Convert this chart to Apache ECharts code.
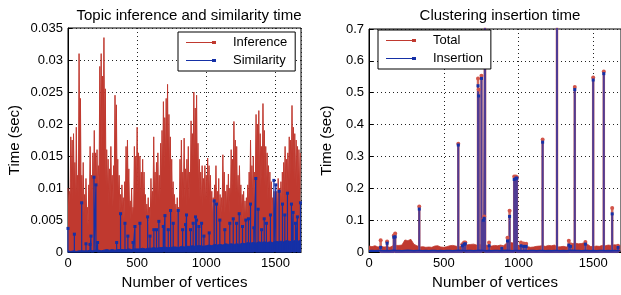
<!DOCTYPE html>
<html>
<head>
<meta charset="utf-8">
<script src="https://cdn.jsdelivr.net/npm/echarts@6/dist/echarts.min.js"></script>
<style>
html, body { margin: 0; padding: 0; background: #fff; }
#chart { width: 621px; height: 295px; }
</style>
</head>
<body>
<div id="chart"></div>
<script>
// left: topic inference time, peaks at every 10 vertices (0, 10, 20 ...)
const inferenceStep = 10;
const inferencePeak = [
  0.010, 0.0095, 0.018, 0.0175, 0.0185, 0.014, 0.0195, 0.012, 0.031, 0.024,
  0.012, 0.014, 0.009, 0.0115, 0.007, 0.0105, 0.0165, 0.012, 0.0155, 0.019,
  0.0155, 0.016, 0.0135, 0.029, 0.031, 0.0275, 0.0335, 0.0255, 0.016, 0.0145,
  0.013, 0.0165, 0.012, 0.0135, 0.0245, 0.023, 0.0145, 0.012, 0.009, 0.0105,
  0.0085, 0.011, 0.0165, 0.0175, 0.013, 0.008, 0.010, 0.007, 0.0165, 0.015,
  0.0195, 0.0155, 0.015, 0.0125, 0.0145, 0.0125, 0.009, 0.0075, 0.0085, 0.007,
  0.0115, 0.0095, 0.018, 0.0125, 0.014, 0.0155, 0.012, 0.017, 0.019, 0.0235,
  0.021, 0.024, 0.0262, 0.0215, 0.018, 0.0145, 0.011, 0.009, 0.0075, 0.0085,
  0.007, 0.0145, 0.0175, 0.0125, 0.0178, 0.013, 0.0145, 0.0165, 0.0125, 0.0205,
  0.0185, 0.025, 0.0225, 0.0245, 0.017, 0.0145, 0.0125, 0.0135, 0.0115, 0.0135,
  0.012, 0.0147, 0.0135, 0.012, 0.0095, 0.0085, 0.0105, 0.0135, 0.0095, 0.0115,
  0.009, 0.0085, 0.0152, 0.0125, 0.0095, 0.0105, 0.0122, 0.010, 0.016, 0.0145,
  0.0204, 0.0175, 0.0165, 0.012, 0.0135, 0.0105, 0.009, 0.0095, 0.008, 0.0085,
  0.0105, 0.0125, 0.0175, 0.0135, 0.015, 0.0125, 0.0215, 0.020, 0.0221, 0.0185,
  0.0165, 0.0232, 0.019, 0.0165, 0.0155, 0.0135, 0.0125, 0.011, 0.0085, 0.0095,
  0.008, 0.0095, 0.0115, 0.010, 0.011, 0.0125, 0.014, 0.0165, 0.0145, 0.0155,
  0.018, 0.0175, 0.0229, 0.0195, 0.0185, 0.0175, 0.0165, 0.016, 0.0155
];
// dips between the peaks (5, 15, 25 ...)
const inferenceDip = [
  0.006, 0.009, 0.011, 0.008, 0.010, 0.007, 0.009, 0.008, 0.014, 0.008,
  0.007, 0.006, 0.005, 0.006, 0.004, 0.007, 0.009, 0.008, 0.010, 0.009,
  0.010, 0.008, 0.012, 0.017, 0.015, 0.019, 0.016, 0.010, 0.009, 0.007,
  0.008, 0.009, 0.007, 0.012, 0.014, 0.010, 0.008, 0.006, 0.005, 0.006,
  0.005, 0.008, 0.010, 0.009, 0.006, 0.005, 0.005, 0.006, 0.009, 0.010,
  0.009, 0.008, 0.007, 0.008, 0.007, 0.006, 0.005, 0.005, 0.004, 0.005,
  0.006, 0.008, 0.009, 0.007, 0.008, 0.007, 0.008, 0.010, 0.012, 0.013,
  0.014, 0.015, 0.012, 0.011, 0.009, 0.007, 0.006, 0.005, 0.005, 0.004,
  0.006, 0.009, 0.008, 0.009, 0.008, 0.007, 0.009, 0.008, 0.010, 0.012,
  0.014, 0.013, 0.015, 0.011, 0.009, 0.008, 0.007, 0.007, 0.008, 0.007,
  0.008, 0.009, 0.007, 0.006, 0.005, 0.006, 0.007, 0.006, 0.006, 0.005,
  0.005, 0.007, 0.008, 0.006, 0.006, 0.007, 0.006, 0.008, 0.009, 0.011,
  0.010, 0.009, 0.008, 0.007, 0.007, 0.006, 0.005, 0.005, 0.005, 0.006,
  0.007, 0.008, 0.009, 0.008, 0.008, 0.011, 0.012, 0.013, 0.011, 0.010,
  0.012, 0.012, 0.010, 0.009, 0.008, 0.008, 0.007, 0.006, 0.005, 0.005,
  0.005, 0.006, 0.006, 0.007, 0.007, 0.008, 0.009, 0.009, 0.009, 0.010,
  0.011, 0.012, 0.012, 0.011, 0.010, 0.010, 0.009, 0.009
];

// similarity time: low band every 20 vertices + separate spikes
const baseStep = 20;
const similarityBase = [
  0.0002, 0.0001, 0.0002, 0.0001, 0.0002, 0.0002, 0.0002, 0.0002, 0.0003, 0.0002,
  0.0003, 0.0003, 0.0002, 0.0003, 0.0004, 0.0003, 0.0004, 0.0003, 0.0004, 0.0004,
  0.0004, 0.0004, 0.0005, 0.0004, 0.0005, 0.0005, 0.0005, 0.0006, 0.0005, 0.0006,
  0.0006, 0.0007, 0.0006, 0.0007, 0.0007, 0.0008, 0.0007, 0.0007, 0.0008, 0.0008,
  0.0007, 0.0009, 0.0008, 0.0009, 0.0009, 0.001, 0.0009, 0.001, 0.001, 0.0009,
  0.001, 0.0011, 0.001, 0.0012, 0.0011, 0.0012, 0.0011, 0.0013, 0.0012, 0.0013,
  0.0012, 0.0013, 0.0012, 0.0014, 0.0013, 0.0015, 0.0014, 0.0015, 0.0014, 0.0016,
  0.0015, 0.0016, 0.0015, 0.0016, 0.0015, 0.0017, 0.0016, 0.0017, 0.0016, 0.0018,
  0.0017, 0.0016, 0.0018, 0.0017, 0.0018
];
const simSpikeAt = [
  0, 46, 99, 130, 159, 166, 188, 202, 214, 352, 380, 412, 433, 470, 484, 520,
  576, 593, 621, 640, 657, 689, 701, 725, 742, 761, 797, 829, 850, 857, 886,
  905, 922, 930, 947, 966, 983, 1021, 1057, 1074, 1098, 1134, 1170, 1195, 1219,
  1238, 1262, 1286, 1305, 1320, 1344, 1358, 1375, 1400, 1419, 1435, 1464, 1489,
  1503, 1527, 1551, 1568, 1587, 1616, 1628, 1645, 1659, 1681
];
const simSpikeVal = [
  0.0037, 0.0028, 0.0077, 0.0013, 0.0012, 0.0025, 0.0117, 0.0105, 0.0015, 0.0015, 0.006, 0.0045, 0.0025, 0.0015, 0.004, 0.0045,
  0.0055, 0.0025, 0.0035, 0.0035, 0.0048, 0.004, 0.0057, 0.0035, 0.0065, 0.0045, 0.0065, 0.0035, 0.0043, 0.0058, 0.0035,
  0.0045, 0.0055, 0.005, 0.004, 0.0045, 0.0025, 0.003, 0.008, 0.0075, 0.005, 0.0035, 0.0045, 0.0052, 0.0045,
  0.006, 0.004, 0.005, 0.0052, 0.0075, 0.0038, 0.0115, 0.0067, 0.0035, 0.0052, 0.0045, 0.0058, 0.0112,
  0.0105, 0.0095, 0.0075, 0.0058, 0.0092, 0.0075, 0.0062, 0.0045, 0.0055, 0.0077
];

// right: clustering insertion time, base every 20 vertices + spikes
const totalBase = [
  0.019, 0.017, 0.02, 0.016, 0.018, 0.016, 0.017, 0.015, 0.02, 0.021,
  0.021, 0.022, 0.038, 0.036, 0.04, 0.025, 0.02, 0.016, 0.017, 0.015,
  0.016, 0.015, 0.019, 0.02, 0.016, 0.015, 0.017, 0.02, 0.021, 0.019,
  0.016, 0.019, 0.02, 0.023, 0.024, 0.025, 0.022, 0.024, 0.021, 0.022,
  0.02, 0.019, 0.021, 0.02, 0.022, 0.02, 0.028, 0.03, 0.029, 0.022,
  0.021, 0.019, 0.016, 0.017, 0.015, 0.016, 0.018, 0.019, 0.02, 0.018,
  0.021, 0.02, 0.022, 0.016, 0.017, 0.018, 0.016, 0.024, 0.027, 0.028,
  0.026, 0.027, 0.029, 0.025, 0.018, 0.017, 0.019, 0.018, 0.021, 0.02,
  0.022, 0.021, 0.023, 0.022, 0.02
];
const insertionBase = [
  0.004, 0.005, 0.004, 0.005, 0.005, 0.004, 0.005, 0.004, 0.006, 0.005,
  0.005, 0.004, 0.005, 0.006, 0.005, 0.004, 0.005, 0.005, 0.004, 0.005,
  0.004, 0.005, 0.005, 0.004, 0.005, 0.004, 0.005, 0.005, 0.004, 0.005,
  0.006, 0.005, 0.004, 0.005, 0.005, 0.004, 0.005, 0.006, 0.005, 0.004,
  0.005, 0.004, 0.005, 0.005, 0.004, 0.005, 0.006, 0.005, 0.004, 0.005,
  0.005, 0.004, 0.005, 0.004, 0.005, 0.005, 0.004, 0.005, 0.005, 0.004,
  0.005, 0.004, 0.005, 0.005, 0.004, 0.005, 0.004, 0.005, 0.006, 0.005,
  0.005, 0.004, 0.005, 0.005, 0.004, 0.005, 0.004, 0.005, 0.005, 0.004,
  0.005, 0.004, 0.005, 0.005, 0.004
];
const insSpikeAt = [
  78, 121, 166, 175, 336, 597, 624, 636, 644, 729, 733, 752, 765, 770, 776, 803,
  888, 926, 940, 971, 982, 989, 1016, 1034, 1051, 1161, 1257, 1336, 1347, 1376,
  1447, 1499, 1570, 1626, 1665
];
const totalSpikeVal = [
  0.037, 0.033, 0.052, 0.058, 0.143, 0.34, 0.025, 0.03, 0.03, 0.545, 0.51, 0.553, 0.105, 0.112, 0.75, 0.03,
  0.016, 0.045, 0.13, 0.237, 0.237, 0.235, 0.03, 0.027, 0.026, 0.353, 0.75, 0.036, 0.025, 0.518,
  0.032, 0.548, 0.567, 0.138, 0.02
];
const insertionSpikeVal = [
  0.015, 0.028, 0.047, 0.048, 0.135, 0.336, 0.02, 0.025, 0.026, 0.522, 0.49, 0.545, 0.1, 0.106, 0.75, 0.02,
  0.012, 0.035, 0.112, 0.228, 0.232, 0.232, 0.02, 0.018, 0.018, 0.345, 0.75, 0.022, 0.018, 0.51,
  0.025, 0.54, 0.56, 0.12, 0.015
];

const xMax = 1685;
const RED = '#c0392f';
const BLUE = '#1530a6';
const FONT = 'Liberation Sans, Arial, Helvetica, sans-serif';
const lineIcon = 'path://M0,2 L26,2 L26,1 L30,1 L30,4 L26,4 L26,3 L0,3 Z';

function stepData(arr, step) {
  return arr.map((y, i) => [i * step, y]);
}
// peak at i*step, dip half a step later
function peakDipData(peaks, dips, step) {
  const out = [];
  peaks.forEach((y, i) => {
    out.push([i * step, y]);
    if (i < dips.length) out.push([i * step + step / 2, dips[i]]);
  });
  return out;
}
// each spike: up from 0 and back down
function spikeData(at, val) {
  const out = [];
  at.forEach((x, i) => {
    out.push({ value: [x, 0], symbol: 'none' });
    out.push({ value: [x, val[i]] });
    out.push({ value: [x, 0], symbol: 'none' });
  });
  return out;
}

function xAxis(gridIndex) {
  return {
    gridIndex: gridIndex, type: 'value', min: 0, max: xMax, interval: 500,
    name: 'Number of vertices', nameLocation: 'middle', nameGap: 19,
    nameTextStyle: { fontFamily: FONT, fontSize: 15, color: '#000' },
    axisLine: { lineStyle: { color: '#000' } },
    axisTick: { inside: true, length: 4, lineStyle: { color: '#000' } },
    axisLabel: { fontFamily: FONT, fontSize: 13, color: '#000', margin: 5, showMaxLabel: false,
      formatter: v => String(v) },
    splitLine: { show: true, lineStyle: { color: '#222', type: [1, 3] } }
  };
}
function yAxis(gridIndex, max, interval, gap) {
  return {
    gridIndex: gridIndex, type: 'value', min: 0, max: max, interval: interval,
    name: 'Time (sec)', nameLocation: 'middle', nameGap: gap,
    nameTextStyle: { fontFamily: FONT, fontSize: 15, color: '#000' },
    axisLine: { lineStyle: { color: '#000' } },
    axisTick: { inside: true, length: 4, lineStyle: { color: '#000' } },
    axisLabel: { fontFamily: FONT, fontSize: 13, color: '#000', margin: 5 },
    splitLine: { show: true, lineStyle: { color: '#222', type: [1, 3] } }
  };
}
function legend(left, top, names, colors) {
  return {
    left: left, top: top, orient: 'vertical',
    backgroundColor: '#fff', borderColor: '#000', borderWidth: 1,
    padding: [4, 8, 4, 8], itemGap: 5, itemWidth: 30, itemHeight: 4,
    icon: lineIcon,
    textStyle: { fontFamily: FONT, fontSize: 13, color: '#000', padding: [0, 0, 0, 12] },
    data: names.map((n, i) => ({ name: n, itemStyle: { color: colors[i] } }))
  };
}

const chart = echarts.init(document.getElementById('chart'));
chart.setOption({
  animation: false,
  backgroundColor: '#fff',
  title: [
    { text: 'Topic inference and similarity time', left: 184, top: 3, textAlign: 'center',
      textStyle: { fontFamily: FONT, fontSize: 15, fontWeight: 'normal', color: '#000' } },
    { text: 'Clustering insertion time', left: 495, top: 3, textAlign: 'center',
      textStyle: { fontFamily: FONT, fontSize: 15, fontWeight: 'normal', color: '#000' } }
  ],
  grid: [
    { left: 68, top: 28, width: 233, height: 229, show: true, borderColor: '#000', borderWidth: 1, backgroundColor: 'transparent' },
    { left: 369, top: 29, width: 252, height: 228, show: true, borderColor: '#000', borderWidth: 1, backgroundColor: 'transparent' }
  ],
  xAxis: [xAxis(0), xAxis(1)],
  yAxis: [yAxis(0, 0.035, 0.005, 46), yAxis(1, 0.7, 0.1, 35)],
  legend: [
    legend(178, 32, ['Inference', 'Similarity'], [RED, BLUE]),
    legend(378, 30, ['Total', 'Insertion'], [RED, BLUE])
  ],
  series: [
    {
      name: 'Inference', type: 'line', xAxisIndex: 0, yAxisIndex: 0,
      data: peakDipData(inferencePeak, inferenceDip, inferenceStep), showSymbol: false,
      lineStyle: { color: RED, width: 1 }, itemStyle: { color: RED },
      areaStyle: { color: RED, opacity: 1 }
    },
    {
      name: 'Similarity', type: 'line', xAxisIndex: 0, yAxisIndex: 0,
      data: stepData(similarityBase, baseStep), showSymbol: false,
      lineStyle: { color: BLUE, width: 1 }, itemStyle: { color: BLUE },
      areaStyle: { color: BLUE, opacity: 1 }
    },
    {
      name: 'Similarity', type: 'line', xAxisIndex: 0, yAxisIndex: 0,
      data: spikeData(simSpikeAt, simSpikeVal), symbol: 'rect', symbolSize: 3,
      lineStyle: { color: BLUE, width: 1.2 }, itemStyle: { color: BLUE }
    },
    {
      name: 'Total', type: 'line', xAxisIndex: 1, yAxisIndex: 1,
      data: stepData(totalBase, baseStep), showSymbol: false,
      lineStyle: { color: RED, width: 0.8 }, itemStyle: { color: RED },
      areaStyle: { color: RED, opacity: 1 }
    },
    {
      name: 'Total', type: 'line', xAxisIndex: 1, yAxisIndex: 1,
      data: spikeData(insSpikeAt, totalSpikeVal), symbol: 'circle', symbolSize: 4,
      lineStyle: { color: '#d06a60', width: 2.5 }, itemStyle: { color: '#d2554a' }
    },
    {
      name: 'Insertion', type: 'line', xAxisIndex: 1, yAxisIndex: 1,
      data: stepData(insertionBase, baseStep), showSymbol: false,
      lineStyle: { color: BLUE, width: 1.5 }, itemStyle: { color: BLUE },
      areaStyle: { color: BLUE, opacity: 1 }
    },
    {
      name: 'Insertion', type: 'line', xAxisIndex: 1, yAxisIndex: 1,
      data: spikeData(insSpikeAt, insertionSpikeVal), symbol: 'rect', symbolSize: 3,
      lineStyle: { color: 'rgba(25,40,170,0.7)', width: 2 }, itemStyle: { color: BLUE }
    }
  ]
});
</script>
</body>
</html>
